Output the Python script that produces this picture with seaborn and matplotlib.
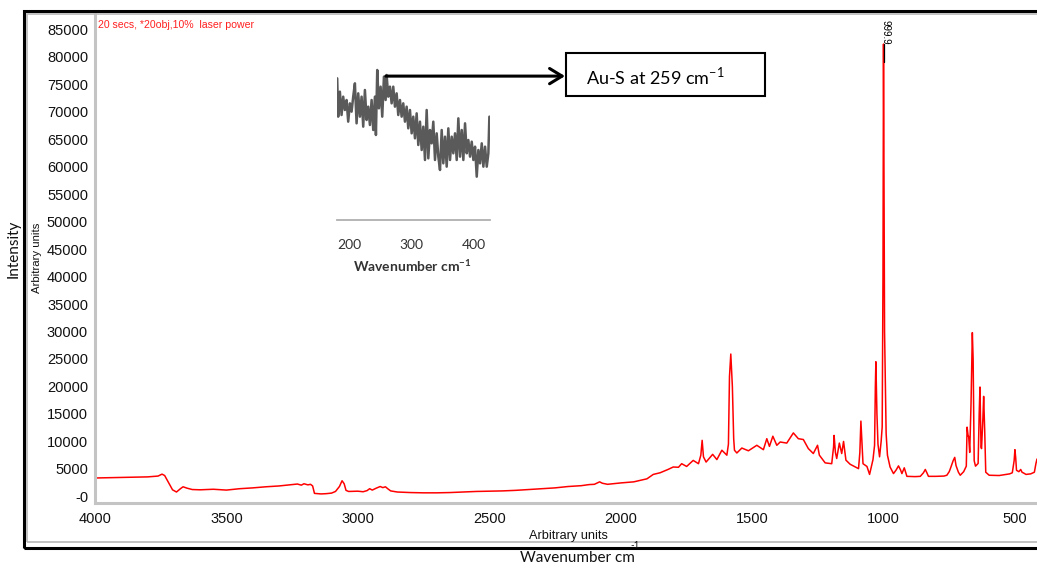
import numpy as np
import pandas as pd
import matplotlib
matplotlib.use("Agg")
import matplotlib.pyplot as plt
from matplotlib.patches import Rectangle
from matplotlib.ticker import FixedLocator, FixedFormatter, MultipleLocator
import seaborn as sns

# Raman spectrum (wavenumber in cm-1, intensity in arbitrary units)
wavenumber = [
    4000, 3950, 3900, 3850, 3800, 3760, 3745, 3735, 3720, 3705, 3690, 3675, 3665,
    3650, 3630, 3600, 3550, 3500, 3450, 3400, 3350, 3300, 3260, 3230, 3215, 3205,
    3190, 3180, 3172, 3165, 3140, 3120, 3100, 3085, 3070, 3060, 3052, 3045, 3035,
    3000, 2980, 2965, 2955, 2945, 2930, 2915, 2905, 2895, 2885, 2875, 2850, 2800,
    2750, 2700, 2650, 2600, 2550, 2500, 2450, 2400, 2350, 2300, 2250, 2200, 2150,
    2120, 2100, 2080, 2070, 2050, 2030, 2000, 1950, 1900, 1876, 1850, 1820, 1800,
    1780, 1768, 1749, 1724, 1704, 1695, 1690, 1685, 1675, 1650, 1634, 1615, 1596,
    1590, 1586, 1581, 1575, 1570, 1567, 1558, 1539, 1514, 1482, 1457, 1444, 1434,
    1421, 1406, 1393, 1368, 1343, 1324, 1305, 1286, 1267, 1251, 1244, 1222, 1197,
    1190, 1188, 1183, 1178, 1168, 1159, 1152, 1143, 1127, 1095, 1090, 1086, 1081,
    1078, 1063, 1053, 1040, 1034, 1031, 1029, 1025, 1021, 1015, 1009, 1005, 1002,
    1000, 998, 996, 990, 985, 975, 962, 952, 943, 935, 930, 921, 911, 880, 860,
    848, 841, 835, 829, 800, 770, 759, 750, 746, 735, 729, 724, 715, 708, 695, 685,
    682, 678, 676, 672, 667, 662, 659, 655, 650, 640, 636, 633, 629, 627, 622, 619,
    615, 611, 598, 560, 520, 510, 503, 500, 497, 494, 485, 478, 473, 465, 458, 440,
    426, 420, 416,
]
intensity = [
    3350, 3400, 3450, 3500, 3550, 3700, 4050, 3800, 2500, 1200, 800, 1400, 1750,
    1500, 1250, 1200, 1300, 1150, 1400, 1550, 1750, 1900, 2100, 2250, 2050, 2300,
    2100, 2200, 1900, 550, 450, 500, 600, 900, 1800, 2850, 2300, 1100, 900,
    950, 850, 1050, 1400, 1150, 1500, 1800, 1600, 1750, 1350, 1000, 800, 700,
    650, 650, 700, 800, 900, 950, 1000, 1100, 1250, 1400, 1550, 1800, 1950,
    2150, 2200, 2650, 2400, 2200, 2300, 2450, 2650, 3200, 4000, 4300, 4900, 5350,
    5300, 5950, 5450, 6550, 5950, 7500, 10200, 7200, 6250, 7650, 6700, 8400, 7500,
    9500, 21800, 25900, 20000, 10500, 8400, 7900, 8800, 8300, 9300, 8500, 10500, 9100,
    10950, 9300, 9900, 9700, 11550, 10500, 10350, 8700, 7800, 9300, 7500, 6100, 5950,
    9000, 11100, 8000, 6900, 9700, 7800, 10000, 6600, 5850, 5050, 8000, 13700, 9000,
    5950, 5450, 4000, 6700, 9300, 20000, 24500, 15000, 9500, 7200, 10000, 12650, 40000,
    82300, 55500, 30000, 11440, 7500, 5350, 4150, 4800, 5550, 4800, 4150, 5200, 3650, 3600, 3650,
    4300, 4900, 4300, 3650, 3650, 3700, 3850, 4500, 5000, 6500, 7100, 5600, 4400, 3850, 4500, 5500,
    12600, 11000, 10950, 8000, 16900, 29800, 25000, 6500, 5500, 6000, 15000, 19900, 9000, 8700, 14000, 18200,
    12000, 4400, 3850, 3800, 4100, 4300, 6500, 8500, 7000, 4750, 4500, 4900, 4400, 4200, 4000, 4100,
    4400, 6000, 6800,
]

# Low-wavenumber detail of the Au-S region (arbitrary counts)
inset_wavenumber = [
    181.3, 182.9, 185.6, 188.3, 190.9, 193.6, 196.3, 198.9, 201.6, 204.3, 206.9, 209.6,
    212.3, 214.9, 217.6, 220.3, 222.9, 225.6, 228.3, 230.9, 233.6, 236.3, 238.9, 241.6,
    243.2, 245.3, 248.0, 250.7, 253.3, 256.0, 258.7, 260.3, 262.9, 265.6, 268.3, 270.9,
    273.6, 276.3, 278.9, 281.6, 284.3, 286.9, 289.6, 292.3, 294.9, 297.6, 300.3, 302.9,
    305.6, 308.3, 310.9, 313.6, 316.3, 318.9, 321.6, 324.3, 326.9, 329.6, 332.3, 334.9,
    337.6, 340.3, 342.9, 345.6, 348.3, 350.9, 353.6, 356.3, 358.9, 361.6, 364.3, 366.9,
    369.6, 372.3, 374.9, 377.6, 380.3, 382.9, 385.6, 388.3, 390.9, 393.6, 396.3, 398.9,
    401.6, 404.3, 406.9, 409.6, 412.3, 414.9, 417.6, 420.3, 422.9, 424.5,
]
inset_counts = [
    1245, 900, 1125, 915, 1080, 960, 1050, 855, 1020, 945, 1080, 1200,
    840, 1110, 900, 1080, 810, 1140, 870, 990, 825, 1050, 780, 1080,
    735, 1320, 975, 1170, 900, 1260, 1050, 1275, 1080, 1170, 1020, 1170,
    990, 1110, 915, 1050, 900, 1020, 855, 990, 795, 960, 750, 900,
    705, 930, 645, 855, 600, 810, 510, 960, 525, 780, 660, 855,
    510, 750, 540, 420, 780, 480, 720, 450, 795, 510, 720, 570,
    750, 510, 885, 540, 780, 510, 840, 570, 690, 540, 675, 510,
    630, 360, 600, 480, 660, 450, 630, 450, 570, 900,
]

x_ticks = [4000, 3500, 3000, 2500, 2000, 1500, 1000, 500]
x_tick_labels = ["4000", "3500", "3000", "2500", "2000", "1500", "1000", "500"]
y_ticks = list(range(0, 85001, 5000))
y_tick_labels = ["-0"] + [str(v) for v in y_ticks[1:]]
inset_ticks = [200, 300, 400]
peak_label = "999.9"

sns.set_style("white")
plt.rcParams["font.family"] = ["Liberation Sans", "DejaVu Sans"]

W, H = 1037, 568
fig = plt.figure(figsize=(W / 100, H / 100), dpi=100)


def fx(px):
    return px / W


def fy(py):
    return 1 - py / H


# outer frame with an inner grey rule
fig.patches.append(Rectangle((fx(23.5), fy(548)), fx(1060 - 23.5), (548 - 11) / H,
                             transform=fig.transFigure, fill=False, ec="black", lw=2.2, zorder=0))
fig.patches.append(Rectangle((fx(26.5), fy(541.5)), fx(1060 - 26.5), (541.5 - 13.5) / H,
                             transform=fig.transFigure, fill=False, ec="#b8b8b8", lw=1.2, zorder=0))

ax = fig.add_axes([fx(95), fy(503), fx(1037 - 95), (503 - 13) / H])
ax.patch.set_alpha(0)
df = pd.DataFrame({"wavenumber": wavenumber, "intensity": intensity})
sns.lineplot(data=df, x="wavenumber", y="intensity", ax=ax, color="#ff0000",
             lw=1.1, estimator=None, sort=False)
ax.set_xlim(4000, 416)
ax.set_ylim(-1200, 87950)
ax.set_xlabel("")
ax.set_ylabel("")

for side in ("top", "right"):
    ax.spines[side].set_visible(False)
for side in ("left", "bottom"):
    ax.spines[side].set_color("#c4c4c4")
    ax.spines[side].set_linewidth(2.2)

ax.xaxis.set_major_locator(FixedLocator(x_ticks))
ax.xaxis.set_major_formatter(FixedFormatter(x_tick_labels))
ax.xaxis.set_minor_locator(MultipleLocator(100))
ax.yaxis.set_major_locator(FixedLocator(y_ticks))
ax.yaxis.set_major_formatter(FixedFormatter(y_tick_labels))
ax.yaxis.set_minor_locator(MultipleLocator(1000))
ax.tick_params(axis="both", which="major", direction="out", length=3.5, width=0.9,
               color="#303030", labelsize=10.5, labelcolor="#111111")
ax.tick_params(axis="both", which="minor", direction="out", length=1.8, width=0.8,
               color="#404040")
ax.tick_params(axis="x", which="major", pad=3)
ax.tick_params(axis="y", which="major", pad=1.5)

# label of the strongest band with its marker
peak_i = int(np.argmax(intensity))
ax.plot([wavenumber[peak_i], wavenumber[peak_i]], [intensity[peak_i] - 3200, intensity[peak_i]],
        color="black", lw=0.9)
ax.text(wavenumber[peak_i] - 9, intensity[peak_i] - 150, peak_label, rotation=270,
        ha="center", va="bottom", fontsize=7, color="black")

ax.text(0.003, 0.985, "20 secs, *20obj,10%  laser power", transform=ax.transAxes,
        ha="left", va="top", fontsize=7.6, color="#ff2020")

# axis titles
fig.text(fx(14), fy(249), "Intensity", rotation=90, ha="center", va="center",
         fontsize=11, family=["Lato", "DejaVu Sans"], color="#111111")
fig.text(fx(37), fy(258), "Arbitrary units", rotation=90, ha="center", va="center",
         fontsize=8.2, color="#111111")
fig.text(fx(568), fy(536), "Arbitrary units", ha="center", va="center",
         fontsize=9.2, color="#111111")
fig.text(fx(520), fy(558), "Wavenumber cm", ha="left", va="center",
         fontsize=11, family=["Lato", "DejaVu Sans"], color="#111111")
fig.text(fx(630), fy(546), "-1", ha="left", va="center", fontsize=7,
         family=["Lato", "DejaVu Sans"], color="#111111")

# inset
ax_in = fig.add_axes([fx(337), fy(220), fx(490 - 337), (220 - 66) / H])
ax_in.patch.set_alpha(0)
sns.lineplot(x=inset_wavenumber, y=inset_counts, ax=ax_in, color="#5a5a5a", lw=1.8,
             estimator=None, sort=False)
ax_in.set_xlim(181, 425.5)
ax_in.set_ylim(-30, 1356)
for side in ("top", "right", "left"):
    ax_in.spines[side].set_visible(False)
ax_in.spines["bottom"].set_color("#b0b0b0")
ax_in.spines["bottom"].set_linewidth(1.3)
ax_in.set_yticks([])
ax_in.set_xticks(inset_ticks)
ax_in.set_xticklabels([str(t) for t in inset_ticks], family=["Lato", "DejaVu Sans"])
ax_in.tick_params(axis="x", direction="out", length=4, width=1, color="#b0b0b0",
                  labelsize=10, labelcolor="#333333", pad=10)
ax_in.set_xlabel("")
fig.text(fx(412), fy(266), r"Wavenumber cm$^{\mathregular{-1}}$", ha="center", va="center",
         fontsize=10, fontweight="bold", family=["Lato", "DejaVu Sans"], color="#333333")

# annotation arrow from the Au-S band to the label box
start_disp = ax_in.transData.transform((259, 1265))
start_fig = fig.transFigure.inverted().transform(start_disp)
box_left, box_right, box_top, box_bottom = 566, 765, 53, 96
ax_in.annotate("", xy=(fx(box_left - 1), start_fig[1]), xycoords="figure fraction",
               xytext=(start_fig[0], start_fig[1]), textcoords="figure fraction",
               arrowprops=dict(arrowstyle="->,head_length=0.9,head_width=0.55",
                               lw=2.2, color="black", shrinkA=0, shrinkB=0))
fig.patches.append(Rectangle((fx(box_left), fy(box_bottom)), fx(box_right - box_left),
                             (box_bottom - box_top) / H, transform=fig.transFigure,
                             fill=True, fc="white", ec="black", lw=1.5, zorder=3))
fig.text(fx(586), fy(76), r"Au-S at 259 cm$^{\mathregular{-1}}$", ha="left", va="center",
         fontsize=13, family=["Lato", "DejaVu Sans"], color="black", zorder=4)

fig.savefig("out.png", dpi=100)
